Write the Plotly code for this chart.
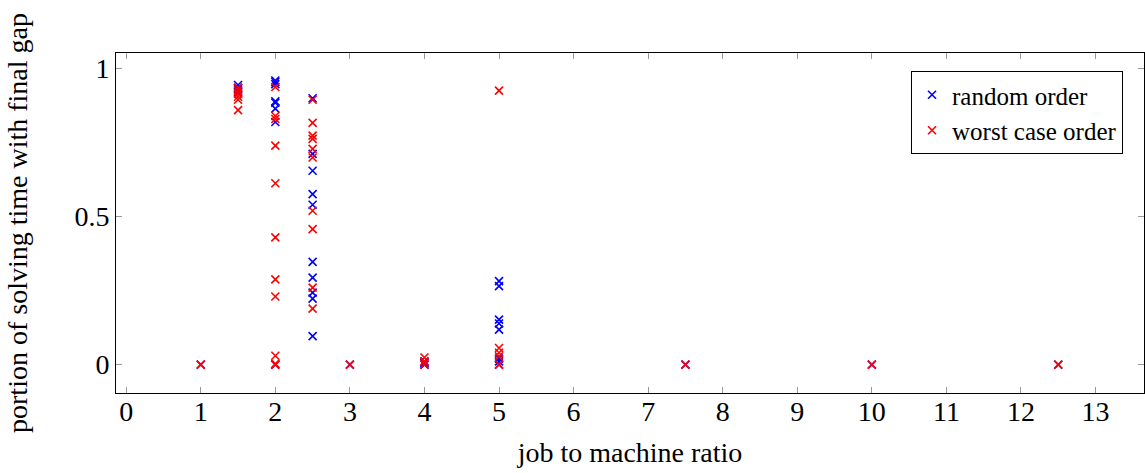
import plotly.graph_objects as go

# random order
rand_x = [1, 1.5, 1.5, 1.5, 1.5,
          2, 2, 2, 2, 2, 2, 2, 2,
          2.5, 2.5, 2.5, 2.5, 2.5, 2.5, 2.5, 2.5, 2.5, 2.5,
          3, 4, 4, 4,
          5, 5, 5, 5, 5, 5, 5, 5,
          7.5, 10, 12.5]
rand_y = [0, 0.945, 0.935, 0.93, 0.92,
          0.96, 0.955, 0.948, 0.89, 0.885, 0.865, 0.82, 0,
          0.90, 0.712, 0.655, 0.576, 0.54, 0.347, 0.294, 0.243, 0.223, 0.096,
          0, 0.01, 0.005, 0,
          0.282, 0.265, 0.152, 0.139, 0.118, 0.02, 0.011, 0,
          0, 0, 0]

# worst case order
worst_x = [1, 1.5, 1.5, 1.5, 1.5, 1.5, 1.5,
           2, 2, 2, 2, 2, 2, 2, 2, 2, 2, 2,
           2.5, 2.5, 2.5, 2.5, 2.5, 2.5, 2.5, 2.5, 2.5, 2.5,
           3, 4, 4, 4,
           5, 5, 5, 5, 5,
           7.5, 10, 12.5]
worst_y = [0, 0.935, 0.925, 0.915, 0.905, 0.895, 0.86,
           0.938, 0.84, 0.83, 0.74, 0.613, 0.43, 0.288, 0.23, 0.03, 0.003, 0,
           0.895, 0.817, 0.774, 0.763, 0.729, 0.70, 0.52, 0.458, 0.26, 0.189,
           0, 0.024, 0.011, 0,
           0.926, 0.056, 0.04, 0.028, 0,
           0, 0, 0]

x_ticks = list(range(0, 14))
y_ticks = [0, 0.5, 1]
y_tick_labels = ["0", "0.5", "1"]

FONT = "Liberation Serif"

def mk(color):
    return dict(symbol="x-thin", size=8, color=color, line=dict(color=color, width=1.6))

fig = go.Figure()
fig.add_trace(go.Scatter(x=rand_x, y=rand_y, mode="markers", name="random order",
                         marker=mk("#0000ff")))
fig.add_trace(go.Scatter(x=worst_x, y=worst_y, mode="markers", name="worst case order",
                         marker=mk("#ff0000")))

axis_common = dict(showgrid=False, zeroline=False, showline=True, linecolor="black",
                   linewidth=1, mirror="ticks", ticks="inside", ticklen=6,
                   tickcolor="#999999", tickwidth=1,
                   tickfont=dict(family=FONT, size=28, color="black"))

fig.update_layout(
    width=1145, height=473,
    margin=dict(l=116, r=1, t=53, b=80),
    paper_bgcolor="white", plot_bgcolor="white",
    font=dict(family=FONT, size=28, color="black"),
    xaxis=dict(range=[-0.137, 13.65], tickvals=x_ticks, ticklabelstandoff=-7,
               title=dict(text="job to machine ratio", font=dict(family=FONT, size=28), standoff=16),
               **axis_common),
    yaxis=dict(range=[-0.096, 1.053], tickvals=y_ticks, ticktext=y_tick_labels,
               title=dict(text="portion of solving time with final gap", font=dict(family=FONT, size=28), standoff=38),
               **axis_common),
    legend=dict(x=0.9796, y=0.947, xanchor="right", yanchor="top",
                bordercolor="black", borderwidth=1, bgcolor="white",
                font=dict(family=FONT, size=25), itemwidth=30,
                tracegroupgap=0),
    showlegend=True,
)

fig.write_html("out.html")
